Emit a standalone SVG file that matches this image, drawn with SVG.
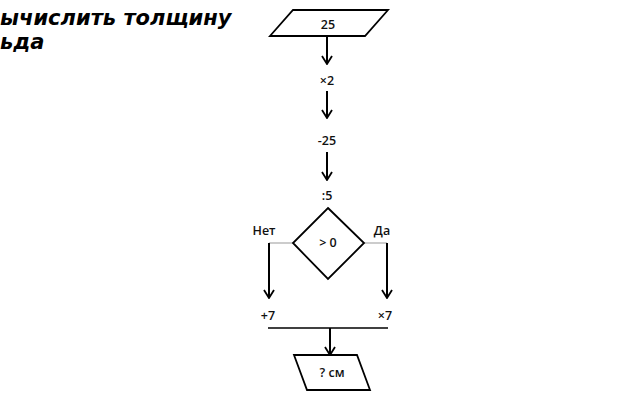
<svg xmlns="http://www.w3.org/2000/svg" width="640" height="400" viewBox="0 0 640 400">
<defs>
<marker id="ah" viewBox="0 0 12 12" refX="11" refY="6" markerWidth="12" markerHeight="12" markerUnits="userSpaceOnUse" orient="auto">
<path d="M3,1 L11,6 L3,11" fill="none" stroke="#000" stroke-width="1.8"/>
</marker>
<style>
.sh{fill:#fff;stroke:#000;stroke-width:1.8}
.t{font-family:"Open Sans","DejaVu Sans",sans-serif;font-size:12.5px;font-weight:600;fill:#111;text-anchor:middle}
.ar{stroke:#000;stroke-width:2;fill:none}
.gr{stroke:#999;stroke-width:1;fill:none}
.title{font-family:"DejaVu Sans",sans-serif;font-size:21px;font-weight:bold;font-style:italic;fill:#000}
</style>
</defs>
<rect width="640" height="400" fill="#fff"/>
<text class="title" x="0" y="25">ычислить толщину</text>
<text class="title" x="0" y="49">ьда</text>
<g id="connectors">
<line class="ar" x1="327" y1="36" x2="327" y2="64" marker-end="url(#ah)"/>
<line class="ar" x1="327" y1="91" x2="327" y2="118" marker-end="url(#ah)"/>
<line class="ar" x1="327" y1="152" x2="327" y2="180" marker-end="url(#ah)"/>
<polyline class="gr" points="293,243 269,243"/>
<polyline class="gr" points="364,243 387,243"/>
<line class="ar" x1="269" y1="243" x2="269" y2="298" marker-end="url(#ah)"/>
<line class="ar" x1="387" y1="243" x2="387" y2="298" marker-end="url(#ah)"/>
<line stroke="#000" stroke-width="1.4" x1="268" y1="328" x2="388" y2="328"/>
<line class="ar" x1="330" y1="328" x2="330" y2="355" marker-end="url(#ah)"/>
</g>
<g id="n25">
<polygon class="sh" points="293,10 388,10 365,36 270,36"/>
<text class="t" x="328" y="29">25</text>
</g>
<g id="nx2"><text class="t" x="327" y="85">×2</text></g>
<g id="nm25"><text class="t" x="327" y="145">-25</text></g>
<g id="nd5"><text class="t" x="327" y="200">:5</text></g>
<g id="dec">
<polygon class="sh" points="328,208 364,243 328,279 293,243"/>
<text class="t" x="328" y="247">&gt; 0</text>
</g>
<g id="lno"><text class="t" x="264" y="235">Нет</text></g>
<g id="lyes"><text class="t" x="382" y="235">Да</text></g>
<g id="np7"><text class="t" x="268" y="320">+7</text></g>
<g id="nx7"><text class="t" x="385" y="320">×7</text></g>
<g id="out">
<polygon class="sh" points="294,355 357,355 370,390 307,390"/>
<text class="t" x="332" y="377">? см</text>
</g>
</svg>
